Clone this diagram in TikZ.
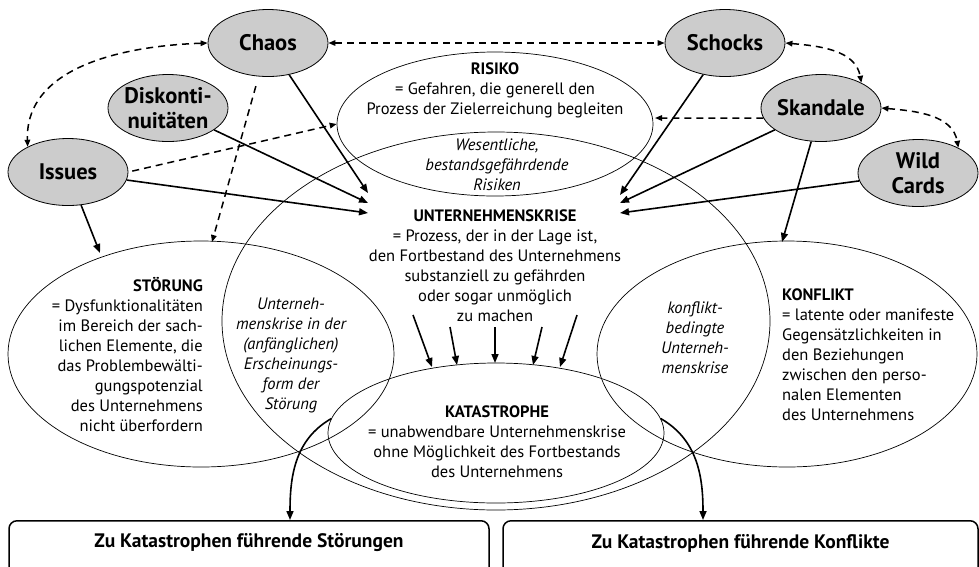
\documentclass[tikz,border=0pt]{standalone}
\usepackage{fontspec}
\setmainfont{PT Sans}
\usetikzlibrary{arrows.meta,shapes.geometric}
\begin{document}
\begin{tikzpicture}[x=1pt,y=-1pt,
  grayel/.style={ellipse, draw, line width=0.8pt, fill=black!20, inner sep=0pt, minimum width=120pt, minimum height=67pt},
  graytext/.style={font=\bfseries\fontsize{22.5}{25}\selectfont, align=center, inner sep=0pt},
  region/.style={ellipse, draw, line width=0.7pt, inner sep=0pt},
  body/.style={font=\fontsize{16.5}{20}\selectfont, inner sep=0pt},
  itbody/.style={font=\itshape\fontsize{16.5}{20}\selectfont, inner sep=0pt, align=center},
  arr/.style={-{Triangle[length=9pt,width=7pt]}, line width=1.6pt},
  darr/.style={-{Triangle[length=7pt,width=5.5pt]}, line width=1.5pt, dash pattern=on 7pt off 5pt},
  ddarr/.style={{Triangle[length=7pt,width=5.5pt]}-{Triangle[length=7pt,width=5.5pt]}, line width=1.5pt, dash pattern=on 7pt off 5pt},
  boxst/.style={draw, line width=1.5pt, rounded corners=8pt, inner sep=0pt, minimum height=60pt, anchor=north},
  boxtext/.style={font=\bfseries\fontsize{19.5}{22}\selectfont, inner sep=0pt}
]
\useasboundingbox (0,0) rectangle (979,566);
\clip (0,0) rectangle (979,566);

% big regions
\node[region, minimum width=316pt, minimum height=144pt] (risiko) at (495,124) {};
\node[region, minimum width=548pt, minimum height=378pt] (krise) at (496,321) {};
\node[region, minimum width=386pt, minimum height=226pt] (stoer) at (201,354) {};
\node[region, minimum width=380pt, minimum height=226pt] (konf) at (787,354) {};
\node[region, minimum width=336pt, minimum height=140pt] (kata) at (496,433) {};

% gray nodes
\node[grayel] (chaos) at (268,43) {};
\node[graytext] at (chaos) {Chaos};
\node[grayel] (disk) at (168,108) {};
\node[graytext] at (disk) {Diskonti-\\nuitäten};
\node[grayel] (issues) at (68,172) {};
\node[graytext] at (issues) {Issues};
\node[grayel] (schocks) at (725,43) {};
\node[graytext] at (schocks) {Schocks};
\node[grayel] (skand) at (821,108) {};
\node[graytext] at (skand) {Skandale};
\node[grayel] (wild) at (918,173) {};
\node[graytext] at (wild) {Wild\\Cards};

% texts
\node[body, align=center] (trisiko) at (495,90) {\textbf{RISIKO}\\= Gefahren, die generell den\\Prozess der Zielerreichung begleiten};
\node[itbody] (twes) at (497,165) {Wesentliche,\\bestandsgefährdende\\Risiken};
\node[body, align=center] (tkrise) at (495,266) {\textbf{UNTERNEHMENSKRISE}\\= Prozess, der in der Lage ist,\\den Fortbestand des Unternehmens\\substanziell zu gefährden\\oder sogar unmöglich\\zu machen};
\node[body, align=right, anchor=east] (tstoer) at (203,355) {\textbf{STÖRUNG}\\= Dysfunktionalitäten\\im Bereich der sach-\\lichen Elemente, die\\das Problembewälti-\\gungspotenzial\\des Unternehmens\\nicht überfordern};
\node[itbody] (tanf) at (291,355) {Unterneh-\\menskrise in der\\(anfänglichen)\\Erscheinungs-\\form der\\Störung};
\node[body, align=left, anchor=west] (tkonf) at (782,355) {\textbf{KONFLIKT}\\= latente oder manifeste\\Gegensätzlichkeiten in\\den Beziehungen\\zwischen den perso-\\nalen Elementen\\des Unternehmens};
\node[itbody] (tkb) at (695,338) {konflikt-\\bedingte\\Unterneh-\\menskrise};
\node[body, align=center] (tkata) at (497,442) {\textbf{KATASTROPHE}\\= unabwendbare Unternehmenskrise\\ohne Möglichkeit des Fortbestands\\des Unternehmens};

% boxes
\node[boxst, minimum width=480pt] (bL) at (249,520) {};
\node[boxtext] at (249,543) {Zu Katastrophen führende Störungen};
\node[boxst, minimum width=475pt] (bR) at (740.5,520) {};
\node[boxtext] at (740.5,543) {Zu Katastrophen führende Konflikte};

% coordinates
\coordinate (kL1) at (368,193);
\coordinate (kL2) at (368,203);
\coordinate (kL3) at (368,213);
\coordinate (kR1) at (620,195);
\coordinate (kR2) at (620,203);
\coordinate (kR3) at (620,213);
\coordinate (stTop1) at (100,253);
\coordinate (stTop2) at (212,242);
\coordinate (konTop) at (782,242);
\coordinate (rR) at (655,118);
\coordinate (a1s) at (413,315); \coordinate (a1e) at (432,367);
\coordinate (a2s) at (450,327); \coordinate (a2e) at (457,365);
\coordinate (a3s) at (495,327); \coordinate (a3e) at (495,363);
\coordinate (a4s) at (542,327); \coordinate (a4e) at (533,365);
\coordinate (a5s) at (577,315); \coordinate (a5e) at (560,367);

% solid arrows
\draw[arr] (chaos) -- (kL1);
\draw[arr] (disk) -- (kL2);
\draw[arr] (issues) -- (kL3);
\draw[arr] (issues) -- (stTop1);
\draw[arr] (schocks) -- (kR1);
\draw[arr] (skand) -- (kR2);
\draw[arr] (wild) -- (kR3);
\draw[arr] (skand) -- (konTop);
\foreach \i in {1,...,5} \draw[arr] (a\i s) -- (a\i e);

% dashed
\draw[ddarr] (chaos) -- (schocks);
\draw[ddarr] (chaos.west) to[out=182,in=92] (issues.148);
\draw[ddarr] (schocks.east) to[out=-5,in=100] (skand.32);
\draw[ddarr] (skand.east) to[out=-5,in=100] (wild.32);
\draw[darr, shorten <=10pt] (chaos) -- (stTop2);
\draw[darr, shorten <=4pt] (issues.east) -- (risiko.west);
\draw[darr] (skand.190) -- (rR);

% curved arrows to boxes
\draw[arr] (kata.175) to[out=210,in=90] ([xshift=41pt]bL.north);
\draw[arr] (kata.5) to[out=-30,in=90] ([xshift=-37.5pt]bR.north);
\end{tikzpicture}
\end{document}
